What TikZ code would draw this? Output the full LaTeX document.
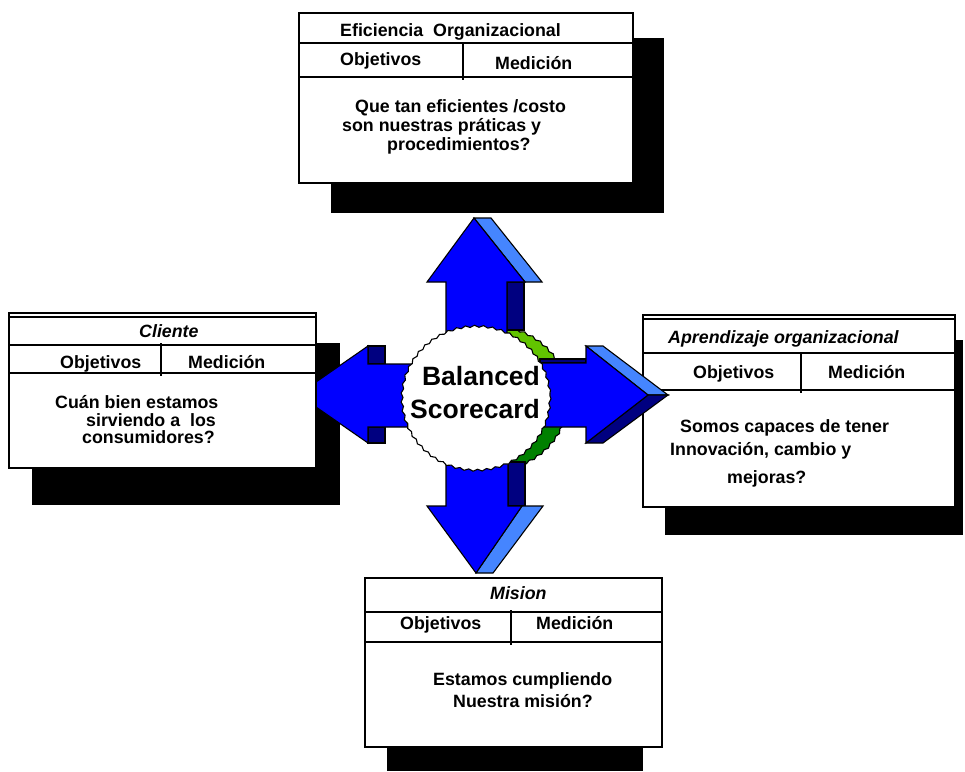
\documentclass[tikz,border=0pt]{standalone}
\usepackage{fontspec}
\setmainfont{Liberation Sans}
\usetikzlibrary{decorations.pathmorphing}
\definecolor{arrowblue}{HTML}{0000FF}
\definecolor{bevelblue}{HTML}{4585FF}
\definecolor{sidenavy}{HTML}{000080}
\definecolor{limegreen2}{HTML}{62C400}
\definecolor{darkgreen2}{HTML}{008000}
\newcommand\bxfont{\fontsize{17.8}{20}\selectfont\bfseries}
\newcommand\bcfont{\fontsize{26.5}{30}\selectfont\bfseries}
\begin{document}
\begin{tikzpicture}[x=1pt,y=-1pt,
 shadowbox/.style={fill=black},
 framebox/.style={draw=black,fill=white,line width=1.4pt},
 rowline/.style={draw=black,line width=1.1pt},
 face/.style={fill=arrowblue,draw=black,line width=1.1pt},
 bevel/.style={fill=bevelblue,draw=black,line width=1.1pt},
 side/.style={fill=sidenavy,draw=black,line width=1.1pt},
 lbl/.style={anchor=base west,inner sep=0pt,font=\bxfont},
 ilbl/.style={lbl,font=\bxfont\itshape},
 wavy/.style={decorate,decoration={snake,amplitude=1pt,segment length=9pt}}
]
\useasboundingbox (0,0) rectangle (965,771);

% shadows
\fill[shadowbox] (331,38) rectangle (664,213);
\fill[shadowbox] (32,343) rectangle (340,505);
\fill[shadowbox] (665,340) rectangle (963,535);
\fill[shadowbox] (387,747) rectangle (643,771);

% green back of the disc
\begin{scope}
\clip (380,300) rectangle (600,396);
\filldraw[fill=limegreen2,draw=black,line width=1.1pt,wavy] (493,396) ellipse (75 and 72);
\end{scope}
\begin{scope}
\clip (380,396) rectangle (600,500);
\filldraw[fill=darkgreen2,draw=black,line width=1.1pt,wavy] (493,396) ellipse (75 and 72);
\end{scope}

% up arrow
\draw[side] (507,282) -- (524,282) -- (524,330) -- (507,330) -- cycle;
\draw[bevel] (474,218) -- (491,218) -- (542,282) -- (525,282) -- cycle;
\draw[face] (446,396) -- (446,282) -- (427,282) -- (474,218) -- (525,282) -- (507,282) -- (507,396) -- cycle;

% down arrow
\draw[side] (508,462) -- (525,462) -- (525,506) -- (508,506) -- cycle;
\draw[bevel] (522,506) -- (543,506) -- (493,573) -- (476,573) -- cycle;
\draw[face] (446,396) -- (446,506) -- (427,506) -- (476,573) -- (522,506) -- (508,506) -- (508,396) -- cycle;

% left arrow
\draw[side] (368,346) -- (385,346) -- (385,364) -- (368,364) -- cycle;
\draw[side] (368,427) -- (385,427) -- (385,443) -- (368,443) -- cycle;
\draw[face] (476,364) -- (368,364) -- (368,346) -- (298,394.5) -- (368,443) -- (368,427) -- (476,427) -- cycle;

% top box
\draw[framebox] (299,13) rectangle (633,183);
\draw[rowline] (299,43) -- (633,43);
\draw[rowline] (299,77) -- (633,77);
\draw[rowline] (463,43) -- (463,80);
\node[lbl] (t0) at (340,36) {Eficiencia\ \ Organizacional};
\node[lbl] (t1) at (340,65) {Objetivos};
\node[lbl] (t2) at (495,69) {Medición};
\node[lbl] (t3) at (355,112) {Que tan eficientes /costo};
\node[lbl] (t4) at (342,131) {son nuestras práticas y};
\node[lbl] (t5) at (387,150) {procedimientos?};

% left box
\draw[framebox] (9,313) rectangle (316,468);
\draw[rowline] (9,317) -- (316,317);
\draw[rowline] (9,345) -- (316,345);
\draw[rowline] (9,373) -- (316,373);
\draw[rowline] (161,343) -- (161,376);
\node[ilbl] (l0) at (139,337) {Cliente};
\node[lbl] (l1) at (60,368) {Objetivos};
\node[lbl] (l2) at (188,368) {Medición};
\node[lbl] (l3) at (55,408) {Cuán bien estamos};
\node[lbl] (l4) at (86,426) {sirviendo a\ \ los};
\node[lbl] (l5) at (82,443) {consumidores?};

% bottom box
\draw[framebox] (365,578) rectangle (662,747);
\draw[line width=2.6pt] (365,578) -- (662,578);
\draw[rowline] (365,612) -- (662,612);
\draw[rowline] (365,642) -- (662,642);
\draw[rowline] (511,610) -- (511,645);
\node[ilbl] (m0) at (490,599) {Mision};
\node[lbl] (m1) at (400,629) {Objetivos};
\node[lbl] (m2) at (536,629) {Medición};
\node[lbl] (m3) at (433,685) {Estamos cumpliendo};
\node[lbl] (m4) at (453,707) {Nuestra misión?};

% right box
\draw[framebox] (643,315) rectangle (955,507);
\draw[rowline] (643,319) -- (955,319);
\draw[rowline] (643,353) -- (955,353);
\draw[rowline] (643,390) -- (955,390);
\draw[rowline] (801,353) -- (801,393);
\node[ilbl] (r0) at (668,343) {Aprendizaje organizacional};
\node[lbl] (r1) at (693,378) {Objetivos};
\node[lbl] (r2) at (828,378) {Medición};
\node[lbl] (r3) at (680,432) {Somos capaces de tener};
\node[lbl] (r4) at (670,455) {Innovación, cambio y};
\node[lbl] (r5) at (727,483) {mejoras?};

% right arrow (in front of the right box)
\draw[side] (540,359) -- (586,359) -- (586,363) -- (540,363) -- cycle;
\draw[bevel] (586,346) -- (603,346) -- (668,395) -- (648,395) -- cycle;
\draw[side] (586,443) -- (603,443) -- (668,395) -- (648,395) -- cycle;
\draw[face] (476,363) -- (586,363) -- (586,346) -- (648,395) -- (586,443) -- (586,427) -- (476,427) -- cycle;

% front disc
\filldraw[fill=white,draw=black,line width=1.1pt,wavy] (476,396) ellipse (74 and 72);
\node[anchor=base,inner sep=0pt,font=\bcfont] (bal) at (481,385) {Balanced};
\node[anchor=base,inner sep=0pt,font=\bcfont] (sco) at (475,418) {Scorecard};
\end{tikzpicture}
\end{document}
